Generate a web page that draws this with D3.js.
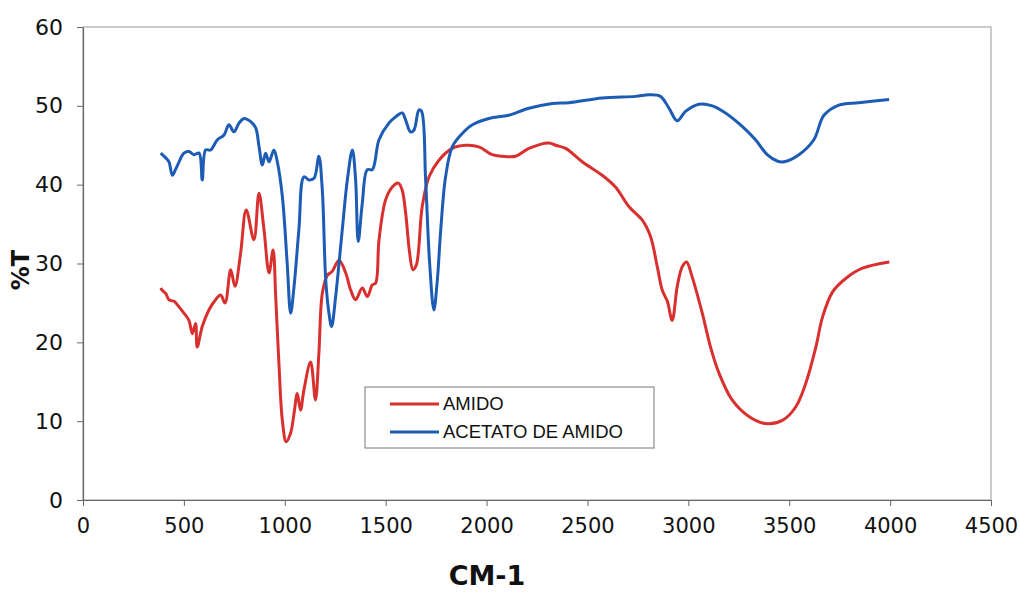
<!DOCTYPE html>
<html><head><meta charset="utf-8">
<script src="https://cdn.jsdelivr.net/npm/d3@7"></script>
<style>body{margin:0;background:#fff}svg{display:block}</style>
</head><body>
<svg id="c" width="1020" height="593"></svg>
<script>
const xTicks = [0,500,1000,1500,2000,2500,3000,3500,4000,4500];
const yTicks = [0,10,20,30,40,50,60];
const seriesNames = ["AMIDO","ACETATO DE AMIDO"];
const seriesColors = ["#d8302e","#1c5cb4"];

const amidoX = [385,393,410,426,451,476,500,525,542,558,566,591,624,657,682,704,732,753,781,809,847,872,897,922,942,955,971,988,1007,1029,1046,1062,1078,1095,1128,1152,1169,1186,1211,1235,1269,1302,1327,1351,1384,1409,1434,1450,1467,1500,1533,1563,1582,1599,1619,1635,1652,1681,1715,1764,1830,1896,1962,2028,2078,2144,2210,2309,2342,2392,2474,2573,2639,2706,2772,2813,2846,2871,2896,2920,2945,2970,2991,3019,3069,3110,3152,3217,3300,3383,3466,3532,3582,3632,3665,3715,3780,3863,3996];
const amidoY = [26.9,26.6,26.2,25.4,25.2,24.5,23.7,22.8,21.1,22.4,19.4,22.0,24.1,25.4,26.0,25.0,29.2,27.1,31.3,36.8,33.0,38.9,34.3,28.8,31.7,25.8,17.3,10.1,7.4,8.5,11.0,13.5,11.4,14.0,17.5,12.7,18.6,26.2,28.5,29.0,30.4,28.8,26.6,25.4,26.9,25.8,27.3,27.5,33.0,38.1,39.7,40.2,39.3,36.4,31.3,29.2,29.8,37.2,41.0,43.1,44.6,45.0,44.8,43.8,43.6,43.6,44.6,45.3,45.0,44.6,42.9,41.2,39.7,37.2,35.5,33.4,29.6,26.6,25.2,22.8,27.1,29.6,30.2,28.3,23.7,19.4,16.1,12.7,10.6,9.7,10.1,11.8,14.8,19.4,23.2,26.4,28.1,29.4,30.2];

const acetatoX = [385,410,426,443,460,476,500,525,550,575,591,608,632,666,699,723,748,773,798,831,856,872,889,905,922,946,963,988,1012,1029,1046,1070,1095,1120,1145,1169,1186,1203,1219,1232,1252,1285,1310,1335,1351,1364,1384,1409,1434,1467,1516,1549,1582,1599,1623,1640,1665,1678,1698,1718,1739,1756,1773,1797,1830,1880,1930,2012,2111,2210,2326,2408,2573,2739,2805,2862,2904,2945,2986,3053,3119,3184,3267,3333,3391,3440,3474,3548,3622,3672,3746,3845,3995];
const acetatoY = [44.0,43.4,42.9,41.2,42.0,42.9,44.0,44.2,43.8,44.0,40.6,44.4,44.4,45.7,46.3,47.6,46.7,47.8,48.4,48.0,47.2,44.9,42.5,44.0,42.9,44.4,42.9,38.5,30.0,23.7,27.1,34.3,41.0,40.6,40.8,43.6,39.3,27.9,23.7,22.0,25.8,34.3,40.6,44.4,40.6,32.8,37.6,41.9,41.9,45.7,47.8,48.6,49.1,48.2,46.7,46.9,49.5,49.3,40.6,30.0,24.1,27.9,34.3,41.0,44.8,46.5,47.6,48.4,48.8,49.7,50.3,50.4,51.0,51.2,51.4,51.2,49.7,48.1,49.3,50.2,50.0,49.1,47.4,45.7,43.8,43.0,42.9,43.8,45.7,48.8,50.1,50.4,50.8];

const svg = d3.select("#c");
const x = d3.scaleLinear().domain([0,4500]).range([83,991]);
const y = d3.scaleLinear().domain([0,60]).range([500,27]);

svg.append("rect").attr("x",x(0)).attr("y",y(60)).attr("width",x(4500)-x(0)).attr("height",y(0)-y(60))
  .attr("fill","none").attr("stroke","#9a9a9a").attr("stroke-width",1);

const font = "'DejaVu Sans', Verdana, sans-serif";

const xAxis = svg.append("g").attr("transform",`translate(0,${y(0)})`)
  .call(d3.axisBottom(x).tickValues(xTicks).tickFormat(d3.format("d")).tickSize(6).tickPadding(12).tickSizeOuter(0));
const yAxis = svg.append("g").attr("transform",`translate(${x(0)},0)`)
  .call(d3.axisLeft(y).tickValues(yTicks).tickFormat(d3.format("d")).tickSize(6).tickPadding(14).tickSizeOuter(0));
[xAxis,yAxis].forEach(g=>{
  g.select(".domain").attr("stroke","#666").attr("stroke-width",1.2);
  g.selectAll(".tick line").attr("stroke","#666");
  g.selectAll("text").attr("font-family",font).attr("fill","#111");
});
yAxis.selectAll("text").attr("font-size",22);
xAxis.selectAll("text").attr("font-size",21);

const line = d3.line().x(d=>x(d[0])).y(d=>y(d[1])).curve(d3.curveCatmullRom.alpha(0.5));
const amido = amidoX.map((v,i)=>[v,amidoY[i]]);
const acetato = acetatoX.map((v,i)=>[v,acetatoY[i]]);
[amido,acetato].forEach((data,i)=>{
  svg.append("path").datum(data).attr("d",line).attr("fill","none")
    .attr("stroke",seriesColors[i]).attr("stroke-width",3).attr("stroke-linejoin","round");
});

svg.append("text").attr("x",487).attr("y",585).attr("text-anchor","middle")
  .attr("font-family",font).attr("font-weight","bold").attr("font-size",27).attr("fill","#111").text("CM-1");
svg.append("text").attr("transform","translate(29,270) rotate(-90)").attr("text-anchor","middle")
  .attr("font-family",font).attr("font-weight","bold").attr("font-size",24).attr("fill","#111").text("%T");

const lg = svg.append("g");
lg.append("rect").attr("x",365).attr("y",387).attr("width",289).attr("height",61)
  .attr("fill","#fff").attr("stroke","#777").attr("stroke-width",1);
seriesNames.forEach((n,i)=>{
  const yy = 404 + i*28;
  lg.append("line").attr("x1",390).attr("x2",439).attr("y1",yy).attr("y2",yy)
    .attr("stroke",seriesColors[i]).attr("stroke-width",3);
  lg.append("text").attr("x",443).attr("y",yy+6).attr("font-family","'Liberation Sans', Arial, sans-serif")
    .attr("font-size",18.5).attr("fill","#111").text(n);
});
</script>
</body></html>
